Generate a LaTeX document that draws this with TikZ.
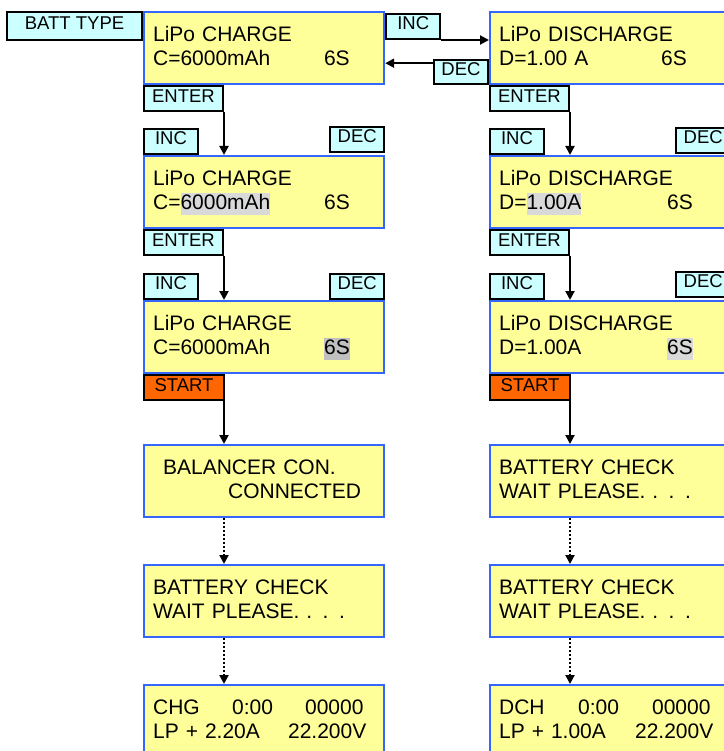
\documentclass[tikz,border=0pt]{standalone}
\usepackage{fontspec}
\setmainfont{Liberation Sans}
\usepackage{tikz}
\usetikzlibrary{positioning, arrows.meta}
\usepackage{xcolor}
\definecolor{lcdyellow}{HTML}{FFFF99}
\definecolor{lcdblue}{HTML}{3366FF}
\definecolor{keycyan}{HTML}{CCFFFF}
\definecolor{keyorange}{HTML}{FF6600}
\definecolor{hlight}{HTML}{D9D9D9}
\definecolor{hdark}{HTML}{C0C0C0}
\newcommand{\lcdfont}{\fontsize{21}{24}\selectfont}
\newcommand{\keyfont}{\fontsize{18.5}{20}\selectfont}
\newcommand{\lcdstrut}{\rule[-6pt]{0pt}{22pt}}
\newcommand{\hilite}[2]{{\setlength{\fboxsep}{0pt}\colorbox{#1}{\lcdstrut #2}}}
\tikzset{%
    % display screens
    lcd/.style = {rectangle, draw=lcdblue, line width=2.2pt, fill=lcdyellow,
    minimum width=240pt, minimum height=72pt, text width=222pt,
    inner xsep=9pt, inner ysep=0pt, align=left, anchor=north west,
    font=\lcdfont},
    % push buttons
    key/.style = {rectangle, draw, line width=2pt, fill=keycyan,
    minimum height=25pt, inner sep=0pt, text height=0.72em,
    text depth=0.05em, font=\keyfont}
}
\begin{document}
\begin{tikzpicture}[x=1pt, y=-1pt]

	\tikzstyle{arc}=[-{Triangle[width=9pt,length=9pt]}, line width=2pt, black]
	\tikzstyle{arcdot}=[-{Triangle[width=9pt,length=9pt]}, line width=2pt, dash pattern=on 2pt off 2pt, black]

	\useasboundingbox (0,0) rectangle (723,751);

	% colonne charge
	\node[lcd] (chg1) at (143,11) {\lcdstrut LiPo CHARGE\\ \lcdstrut\makebox[171pt][l]{C=6000mAh}6S};
	\node[key, minimum width=135pt, minimum height=28pt, anchor=north east] (batt) at (chg1.north west) {BATT TYPE};
	\node[key, minimum width=79pt, anchor=north west] (enter1) at (chg1.south west) {ENTER};
	\node[key, minimum width=54pt, anchor=north west] (inc1) at ([yshift=-2pt]chg1.north east) {INC};

	\node[lcd] (chg2) at (143,155) {\lcdstrut LiPo CHARGE\\ \lcdstrut\makebox[171pt][l]{C=\hilite{hlight}{6000mAh}}6S};
	\node[key, minimum width=54pt, anchor=south west] (inc2) at (chg2.north west) {INC};
	\node[key, minimum width=54pt, anchor=south east] (dec2) at ([yshift=2pt]chg2.north east) {DEC};
	\node[key, minimum width=79pt, anchor=north west] (enter2) at (chg2.south west) {ENTER};

	\node[lcd] (chg3) at (143,300) {\lcdstrut LiPo CHARGE\\ \lcdstrut\makebox[171pt][l]{C=6000mAh}\hilite{hdark}{6S}};
	\node[key, minimum width=54pt, anchor=south west] (inc3) at (chg3.north west) {INC};
	\node[key, minimum width=54pt, anchor=south east] (dec3) at (chg3.north east) {DEC};
	\node[key, minimum width=80pt, anchor=north west, fill=keyorange] (start3) at (chg3.south west) {START};

	\node[lcd] (chg4) at (143,444) {\lcdstrut\hspace*{10pt}BALANCER CON.\\ \lcdstrut\hspace*{75pt}CONNECTED};
	\node[lcd] (chg5) at (143,564) {\lcdstrut BATTERY CHECK\\ \lcdstrut WAIT PLEASE. . . .};
	\node[lcd] (chg6) at (143,684) {\lcdstrut\makebox[79pt][l]{CHG}\makebox[73pt][l]{0:00}00000\\ \lcdstrut\makebox[135pt][l]{LP + 2.20A}22.200V};

	% colonne decharge
	\node[lcd] (dch1) at (489,11) {\lcdstrut LiPo DISCHARGE\\ \lcdstrut\makebox[162pt][l]{D=1.00 A}6S};
	\node[key, minimum width=54pt, minimum height=24pt, anchor=south east] (dec1) at (dch1.south west) {DEC};
	\node[key, minimum width=79pt, anchor=north west] (enter4) at (dch1.south west) {ENTER};

	\node[lcd] (dch2) at (489,155) {\lcdstrut LiPo DISCHARGE\\ \lcdstrut\makebox[168pt][l]{D=\hilite{hlight}{1.00A}}6S};
	\node[key, minimum width=54pt, anchor=south west] (inc5) at (dch2.north west) {INC};
	\node[key, minimum width=54pt, anchor=south east] (dec5) at ([yshift=1pt]dch2.north east) {DEC};
	\node[key, minimum width=79pt, anchor=north west] (enter5) at (dch2.south west) {ENTER};

	\node[lcd] (dch3) at (489,300) {\lcdstrut LiPo DISCHARGE\\ \lcdstrut\makebox[168pt][l]{D=1.00A}\hilite{hlight}{6S}};
	\node[key, minimum width=54pt, anchor=south west] (inc6) at (dch3.north west) {INC};
	\node[key, minimum width=54pt, anchor=south east] (dec6) at ([yshift=2pt]dch3.north east) {DEC};
	\node[key, minimum width=80pt, anchor=north west, fill=keyorange] (start6) at (dch3.south west) {START};

	\node[lcd] (dch4) at (489,444) {\lcdstrut BATTERY CHECK\\ \lcdstrut WAIT PLEASE. . . .};
	\node[lcd] (dch5) at (489,564) {\lcdstrut BATTERY CHECK\\ \lcdstrut WAIT PLEASE. . . .};
	\node[lcd] (dch6) at (489,684) {\lcdstrut\makebox[79pt][l]{DCH}\makebox[74pt][l]{0:00}00000\\ \lcdstrut\makebox[136pt][l]{LP + 1.00A}22.200V};

	% fleches
	\draw[arc] (inc1.south east) -- (inc1.south east -| dch1.west) ;
	\draw[arc] ([yshift=9pt]dec1.west) -- ([yshift=9pt]dec1.west -| chg1.east) ;
	\draw[arc] (enter1.south east) -- (enter1.south east |- chg2.north) ;
	\draw[arc] (enter2.south east) -- (enter2.south east |- chg3.north) ;
	\draw[arc] (enter1.south east |- start3.south) -- (enter1.south east |- chg4.north) ;
	\draw[arcdot] (enter1.south east |- chg4.south) -- (enter1.south east |- chg5.north) ;
	\draw[arcdot] (enter1.south east |- chg5.south) -- (enter1.south east |- chg6.north) ;
	\draw[arc] (enter4.south east) -- (enter4.south east |- dch2.north) ;
	\draw[arc] (enter5.south east) -- (enter5.south east |- dch3.north) ;
	\draw[arc] (enter4.south east |- start6.south) -- (enter4.south east |- dch4.north) ;
	\draw[arcdot] (enter4.south east |- dch4.south) -- (enter4.south east |- dch5.north) ;
	\draw[arcdot] (enter4.south east |- dch5.south) -- (enter4.south east |- dch6.north) ;

\end{tikzpicture}
\end{document}
